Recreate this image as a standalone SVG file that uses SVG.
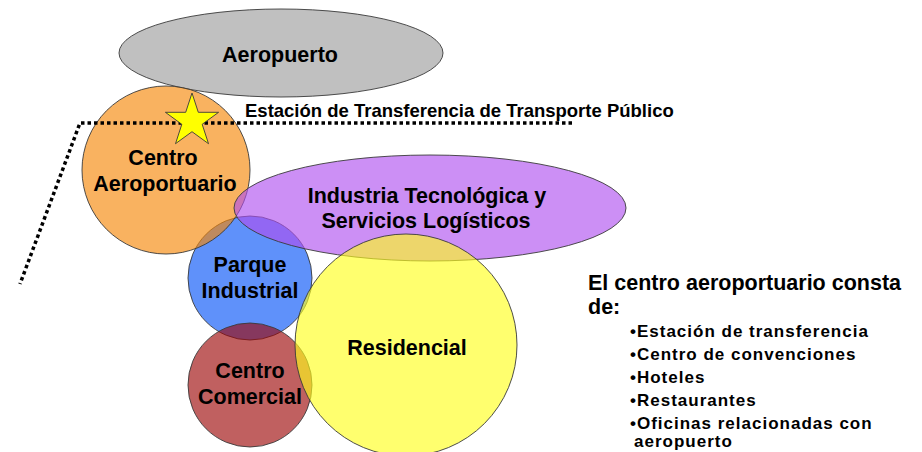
<svg xmlns="http://www.w3.org/2000/svg" width="922" height="452" viewBox="0 0 922 452">
<style>
.sh{stroke:#3a3a3a;stroke-width:0.9}
.lb{font-family:"Liberation Sans",Arial,sans-serif;font-weight:bold;font-size:21.5px;fill:#000;text-anchor:middle}
.side{font-family:"Liberation Sans",Arial,sans-serif;font-weight:bold;fill:#000}
</style>
<rect width="922" height="452" fill="#fff"/>
<g id="aeropuerto">
<ellipse class="sh" cx="281" cy="53" rx="162" ry="44" fill="#c0c0c0"/>
</g>
<g id="parque-industrial">
<circle class="sh" cx="250" cy="278" r="62" fill="#5f91fa"/>
</g>
<g id="centro-aeroportuario">
<circle class="sh" cx="166" cy="170" r="84" fill="#f68707" fill-opacity="0.64"/>
</g>
<g id="industria">
<ellipse class="sh" cx="430" cy="208" rx="196" ry="53" fill="#af50ef" fill-opacity="0.64"/>
</g>
<g id="centro-comercial">
<circle class="sh" cx="250" cy="385" r="62" fill="#9d0707" fill-opacity="0.64"/>
</g>
<g id="residencial">
<circle class="sh" cx="406" cy="345" r="111" fill="#ffff1c" fill-opacity="0.64"/>
</g>
<g id="connectors">
<polyline points="572,123 80,123 20,284" fill="none" stroke="#000" stroke-width="3.5" stroke-dasharray="3.5 3"/>
</g>
<g id="estacion">
<polygon points="192,93 198.3,112.3 218.6,112.3 202.2,124.3 208.5,143.7 192,131.7 175.5,143.7 181.8,124.3 165.4,112.3 185.7,112.3" fill="#ffff00" stroke="#3a3a3a" stroke-width="0.9"/>
<text class="side" x="245" y="117" font-size="18.5">Estación de Transferencia de Transporte Público</text>
</g>
<g id="labels">
<text class="lb" x="163" y="165">Centro</text>
<text class="lb" x="165" y="191">Aeroportuario</text>
<text class="lb" x="280" y="62">Aeropuerto</text>
<text class="lb" x="427" y="203">Industria Tecnológica y</text>
<text class="lb" x="426" y="228">Servicios Logísticos</text>
<text class="lb" x="250" y="272">Parque</text>
<text class="lb" x="250" y="298">Industrial</text>
<text class="lb" x="407" y="355">Residencial</text>
<text class="lb" x="250" y="378">Centro</text>
<text class="lb" x="250" y="404">Comercial</text>
</g>
<g id="nota">
<text class="side" x="588" y="290" font-size="21.5">El centro aeroportuario consta</text>
<text class="side" x="588" y="314" font-size="21.5">de:</text>
<g font-size="17" letter-spacing="1">
<text class="side" x="630" y="337">•Estación de transferencia</text>
<text class="side" x="630" y="360">•Centro de convenciones</text>
<text class="side" x="630" y="383">•Hoteles</text>
<text class="side" x="630" y="406">•Restaurantes</text>
<text class="side" x="630" y="429">•Oficinas relacionadas con</text>
<text class="side" x="634" y="447">aeropuerto</text>
</g>
</g>
</svg>
